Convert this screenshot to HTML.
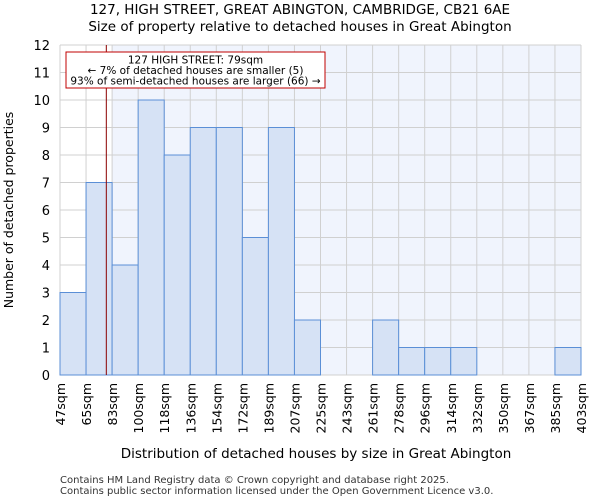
<!DOCTYPE html>
<html><head><meta charset="utf-8"><style>
body{margin:0;background:#fff;font-family:"DejaVu Sans","Liberation Sans",sans-serif;}
</style></head><body>
<svg id="chart" width="600" height="500" xmlns="http://www.w3.org/2000/svg" font-family="DejaVu Sans, Liberation Sans, sans-serif">
<text x="300" y="14" text-anchor="middle" font-size="13.5">127, HIGH STREET, GREAT ABINGTON, CAMBRIDGE, CB21 6AE</text>
<text x="300" y="31" text-anchor="middle" font-size="13.5">Size of property relative to detached houses in Great Abington</text>
<g id="plot"></g>
<text x="316" y="458" text-anchor="middle" font-size="13.5">Distribution of detached houses by size in Great Abington</text>
<text transform="translate(13,210) rotate(-90)" text-anchor="middle" font-size="12.5">Number of detached properties</text>
<text x="60" y="483" font-size="10" fill="#333">Contains HM Land Registry data © Crown copyright and database right 2025.</text>
<text x="60" y="494" font-size="10" fill="#333">Contains public sector information licensed under the Open Government Licence v3.0.</text>
</svg>
<script>
const categories=["47sqm","65sqm","83sqm","100sqm","118sqm","136sqm","154sqm","172sqm","189sqm","207sqm","225sqm","243sqm","261sqm","278sqm","296sqm","314sqm","332sqm","350sqm","367sqm","385sqm","403sqm"];
const counts=[3,7,4,10,8,9,9,5,9,2,0,0,2,1,1,1,0,0,0,1];
const yTicks=[0,1,2,3,4,5,6,7,8,9,10,11,12];
const binStarts=[47,65,83,100,118,136,154,172,189,207,225,243,261,278,296,314,332,350,367,385,403];
const propertySize=79;
const NS="http://www.w3.org/2000/svg";
const L=60,R=581,T=45,B=375,yMax=12;
const n=counts.length,bw=(R-L)/n;
const xb=i=>L+i*bw;
const y=v=>B-(v/yMax)*(B-T);
const g=document.getElementById('plot');
function mk(tag,a){const e=document.createElementNS(NS,tag);for(const k in a)e.setAttribute(k,a[k]);g.appendChild(e);return e;}
let bg=mk('rect',{x:xb(2),y:T,width:R-xb(2),height:B-T,fill:'#f0f4fd'});


for(const t of yTicks){let l=mk('line',{x1:L,x2:R,y1:y(t),y2:y(t),stroke:'#d0d0d0','stroke-width':1});


let tx=mk('text',{x:L-10,y:y(t)+5,'text-anchor':'end','font-size':13});tx.textContent=t;

}
for(let i=0;i<=n;i++){let l=mk('line',{x1:xb(i),x2:xb(i),y1:T,y2:B,stroke:'#d0d0d0','stroke-width':1});


let tx=mk('text',{transform:`translate(${xb(i)+5},${B+8}) rotate(-90)`,'text-anchor':'end','font-size':12.5});tx.textContent=categories[i];

}
counts.forEach((c,i)=>{if(c<=0)return;let r=mk('rect',{x:xb(i),y:y(c),width:bw,height:B-y(c),fill:'#d6e2f5',stroke:'#5b8fd6','stroke-width':1});

});
let bi=0;while(bi<n-1&&binStarts[bi+1]<=propertySize)bi++;
const mx=xb(bi)+(propertySize-binStarts[bi])/(binStarts[bi+1]-binStarts[bi])*bw;
let ml=mk('line',{x1:mx,x2:mx,y1:T,y2:B,stroke:'#8b0000','stroke-width':1});


let box=mk('rect',{x:66,y:52,width:259,height:36,fill:'#fff',stroke:'#c00000','stroke-width':1});


const lines=["127 HIGH STREET: 79sqm","← 7% of detached houses are smaller (5)","93% of semi-detached houses are larger (66) →"];
lines.forEach((s,i)=>{let t=mk('text',{x:195.5,y:63.5+i*10.5,'text-anchor':'middle','font-size':10.5});t.textContent=s;

});
</script>
</body></html>
